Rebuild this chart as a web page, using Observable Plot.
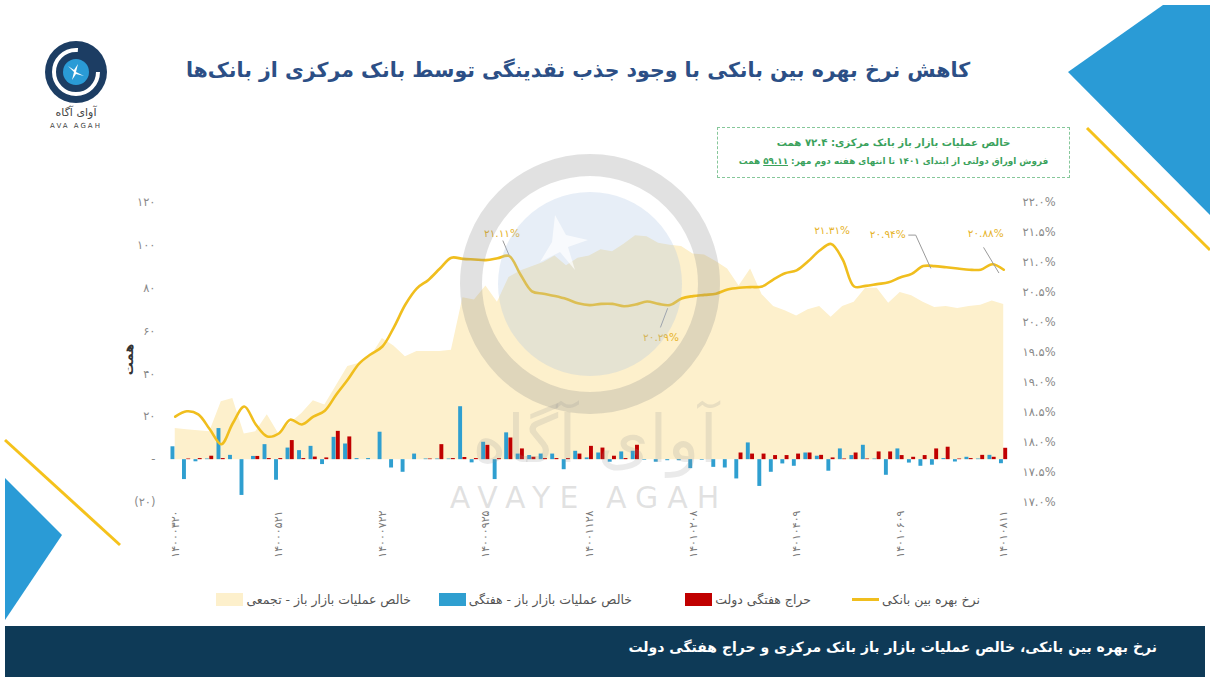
<!DOCTYPE html>
<html><head><meta charset="utf-8">
<script src="https://cdn.jsdelivr.net/npm/d3@7"></script>
<script src="https://cdn.jsdelivr.net/npm/@observablehq/plot@0.6"></script>
<style>
body{margin:0;width:1210px;height:677px;overflow:hidden;background:#fff;font-family:"DejaVu Sans",sans-serif;position:relative}
#chart{position:absolute;left:0;top:0}
.abs{position:absolute}
#title{left:0;width:1156px;top:58px;text-align:center;direction:rtl;font-weight:bold;font-size:20.5px;color:#2c4f86;white-space:nowrap}
#box{left:717px;top:127px;width:351px;height:49px;border:1px dashed #86c79a;direction:rtl;text-align:center;color:#3aa25c;white-space:nowrap}
#box .l1{font-size:10.2px;font-weight:bold;margin-top:9px}
#box .l2{font-size:8.8px;margin-top:8px;font-weight:bold}
#box u{font-weight:bold}
#footer{left:5px;top:626px;width:1200px;height:51px;background:#0e3a57;color:#fff;direction:rtl;font-weight:bold;font-size:14px;box-sizing:border-box;padding-right:48px;padding-top:13px}
.leg{display:flex;direction:rtl;align-items:center;font-size:12.5px;color:#555;top:592px;white-space:nowrap}
.leg .sw{width:27px;height:13px;margin-right:3px}
.leg .ln{width:27px;height:3px;margin-right:3px}
#ytitle{left:108px;top:352px;width:40px;text-align:center;transform:rotate(-90deg);font-weight:bold;font-size:13px;color:#333}
</style></head><body>
<div id="chart"></div>
<svg class="abs" style="left:0;top:0" width="1210" height="677" id="deco">
  <polygon points="1068,72 1163,5 1210,5 1210,215" fill="#2a9bd6"/>
  <line x1="1087" y1="128" x2="1210" y2="250" stroke="#f5c21b" stroke-width="3"/>
  <polygon points="5,478 62,535 5,620" fill="#2a9bd6"/>
  <line x1="5" y1="440" x2="120" y2="545" stroke="#f5c21b" stroke-width="3"/>
  <g transform="translate(76,72)">
    <circle r="31" fill="#1c3d63"/>
    <circle r="22" fill="none" stroke="#fff" stroke-width="4" stroke-dasharray="105 40"/>
    <circle r="13" fill="#2a9bd6"/>
    <path d="M-8,-6 L-2,-2 L2,-8 L0,0 L8,4 L0,2 L-4,8 L-2,0 Z" fill="#fff"/>
  </g>
  <text x="76" y="116" text-anchor="middle" font-size="11" fill="#444" direction="rtl">آوای آگاه</text>
  <text x="76" y="128" text-anchor="middle" font-size="7" fill="#444" letter-spacing="2">AVA AGAH</text>
</svg>
<div id="title" class="abs">کاهش نرخ بهره بین بانکی با وجود جذب نقدینگی توسط بانک مرکزی از بانک‌ها</div>
<div id="box" class="abs"><div class="l1">خالص عملیات بازار باز بانک مرکزی: ۷۲.۴ همت</div><div class="l2">فروش اوراق دولتی از ابتدای ۱۴۰۱ تا انتهای هفته دوم مهر: <u>۵۹.۱۱</u> همت</div></div>
<div id="ytitle" class="abs">همت</div>
<div class="abs leg" style="right:230px"><span>نرخ بهره بین بانکی</span><div class="ln" style="background:#f0be1e"></div></div>
<div class="abs leg" style="right:399px"><span>حراج هفتگی دولت</span><div class="sw" style="background:#c00000"></div></div>
<div class="abs leg" style="right:578px"><span>خالص عملیات بازار باز - هفتگی</span><div class="sw" style="background:#2f9fd0"></div></div>
<div class="abs leg" style="right:799px"><span>خالص عملیات بازار باز - تجمعی</span><div class="sw" style="background:#fdf0cc"></div></div>
<div id="footer" class="abs">نرخ بهره بین بانکی، خالص عملیات بازار باز بانک مرکزی و حراج هفتگی دولت</div>
<script>
// interbank rate (%), weekly
const rate = [18.43,18.52,18.47,18.22,17.97,18.32,18.6,18.3,18.1,18.15,
18.38,18.3,18.43,18.53,18.8,19.05,19.32,19.47,19.6,19.92,
20.3,20.57,20.71,20.9,21.08,21.06,21.05,21.04,21.07,21.11,
20.8,20.52,20.48,20.44,20.39,20.32,20.29,20.31,20.31,20.27,
20.3,20.35,20.31,20.29,20.4,20.44,20.46,20.48,20.55,20.58,
20.59,20.6,20.72,20.82,20.87,21.02,21.2,21.31,21.05,20.6,
20.61,20.64,20.67,20.75,20.81,20.94,20.94,20.92,20.9,20.88,
20.88,20.97,20.88];
// net open market operations - weekly (hemat)
const weekly = [6,-9.3,-1,0.3,14.5,2,-16.7,1.5,7,-9.6,
5.4,4.2,6.2,-2.3,10.4,7.3,0.5,0.5,12.8,-3.9,
-5.9,2.6,0.3,0.3,0.3,24.7,-1.5,8.1,-9.3,12.5,
2.6,1.9,2.6,2.6,-4.7,3.9,0.8,3.1,-1.2,3.6,
3.9,-0.3,-1.2,-0.5,-0.5,-4.2,-0.3,-3.6,-3.9,-9,
7.8,-12.5,-5.9,-2,-3.1,3.1,1.6,-5.4,5,1.9,
6.7,0.3,-7.3,5,-1.6,-3.1,-2.6,0.5,-1.1,1.1,
0.3,2,-1.9];
// government weekly auction (hemat)
const auction = [0,0.3,0.5,1.6,0.5,0,0,1.5,0.5,0.5,
8.9,0.5,1.2,0.8,13.2,10.6,0,0,0,0,
0,0,0.3,7,0.5,1,0.5,6.7,0.5,10.1,
5,1.1,0.5,0.5,0.5,2.6,6.2,5.4,1.6,0.5,
6.7,0,0,0,0,0,0,0,0,3.1,
2.6,2.6,1.9,1.9,2.6,3.1,2,0.8,0.3,3.1,
0.3,3.6,3.6,1.9,1.1,1.9,5,5.8,0.3,0.5,
2,1.1,5.3];
// net open market operations - cumulative (hemat)
const cumulative = [14.5,14,13.5,13,27,28.5,12,13,21,12,
17,21.5,27.5,25.5,34.5,43.5,45,48,56.5,53,
48,50.5,50.5,50.5,51,75.5,74.5,81,73.5,85,
88,90,92,95,90.5,94,95,98,97,100.5,
104.5,104,101,100,99.5,96,95.5,92.5,89,81,
89,77,71.5,69.5,67,70,71.5,66.5,71.5,73.5,
80,80,73,78,76.5,73.5,71,71.5,70.5,71.5,
72,74,72.4];
const tickIdx = [0,9,18,27,36,45,54,63,72];
const tickLabels = ["14000320","14000521","14000722","14000925","14001128","14010208","14010409","14010609","14010811"];
const leftTicks = [-20,0,20,40,60,80,100,120];
const rateTicks = [17,17.5,18,18.5,19,19.5,20,20.5,21,21.5,22];
// labelled points: index, rate value, label offset (px), leader path (px offsets from point)
const notes = [
  {i:29, r:21.11, dx:-7, dy:-22, lead:[[-6,-15],[0,-1]]},
  {i:43, r:20.29, dx:-9, dy:33, lead:[[-9.5,22],[-2.5,3.5]]},
  {i:57, r:21.31, dx:1, dy:-13, lead:null},
  {i:66, r:20.94, dx:-47, dy:-31, lead:[[-26,-31],[-19,-31],[-4,2]]},
  {i:72, r:20.88, dx:-18, dy:-36, lead:[[-20,-22],[-5,3]]}
];

const fa = s => String(s).replace(/\d/g, d => "۰۱۲۳۴۵۶۷۸۹"[d]);
const toV = r => -20 + (r - 17) * 28;           // map rate onto the left scale
const fromV = v => (v + 20) / 28 + 17;
const idx = d3.range(rate.length);
const pxX = 840 / 73, pxV = 300 / 140;

const leadPts = [];
notes.forEach((n, k) => { if (n.lead) n.lead.forEach(p => leadPts.push({k, x: n.i + p[0] / pxX, y: toV(n.r) - p[1] / pxV})); });

const chart = Plot.plot({
  width: 1210, height: 677,
  marginLeft: 169, marginRight: 201, marginTop: 202, marginBottom: 175,
  x: {type: "linear", domain: [-0.5, 72.5], axis: null, label: null},
  y: {domain: [-20, 120], axis: null, label: null},
  style: {fontFamily: "DejaVu Sans", background: "transparent"},
  marks: [
    Plot.areaY(idx, {x: i => i, y: i => cumulative[i], fill: "#fdf0cc"}),
    Plot.rect(idx, {x1: i => i - 0.37, x2: i => i - 0.03, y1: () => 0, y2: i => weekly[i], fill: "#2f9fd0"}),
    Plot.rect(idx, {x1: i => i + 0.0, x2: i => i + 0.34, y1: () => 0, y2: i => auction[i], fill: "#c00000"}),
    Plot.line(idx, {x: i => i, y: i => toV(rate[i]), stroke: "#f0be1e", strokeWidth: 2.6, curve: "catmull-rom"}),
    Plot.line(leadPts, {x: "x", y: "y", z: "k", stroke: "#9a9a9a", strokeWidth: 1}),
    Plot.text(notes, {x: d => d.i + d.dx / pxX, y: d => toV(d.r) - d.dy / pxV, text: d => fa(d.r.toFixed(2)) + "%", fill: "#e6b32a", fontSize: 10.5}),
    Plot.axisY({ticks: leftTicks, anchor: "left", label: null, tickSize: 0, tickPadding: 14, fontSize: 11.5, fill: "#8a8a8a",
      tickFormat: v => v === 0 ? "-" : v < 0 ? "(" + fa(-v) + ")" : fa(v)}),
    Plot.axisY({ticks: rateTicks.map(toV), anchor: "right", label: null, tickSize: 0, tickPadding: 13, fontSize: 11.5, fill: "#8a8a8a",
      tickFormat: v => fa(fromV(v).toFixed(1)) + "%"}),
    Plot.axisX({ticks: tickIdx, anchor: "bottom", label: null, tickSize: 0, tickPadding: 8, tickRotate: -90, fontSize: 11, fill: "#7a7a7a",
      tickFormat: i => fa(tickLabels[tickIdx.indexOf(i)])})
  ]
});
document.getElementById("chart").appendChild(chart);

// faint watermark over the plot
const wm = d3.select("body").append("svg").attr("class", "abs").style("left", "0px").style("top", "0px")
  .attr("width", 1210).attr("height", 677).style("pointer-events", "none");
wm.append("circle").attr("cx", 590).attr("cy", 284).attr("r", 119).attr("fill", "none").attr("stroke", "rgba(140,140,140,0.26)").attr("stroke-width", 22);
wm.append("circle").attr("cx", 590).attr("cy", 284).attr("r", 92).attr("fill", "rgba(170,195,225,0.28)");
wm.append("path").attr("d", "M555,215 L566,235 L588,240 L568,247 L575,270 L560,252 L540,262 L552,242 Z").attr("fill", "rgba(255,255,255,0.7)");
wm.append("text").attr("x", 595).attr("y", 462).attr("text-anchor", "middle").attr("font-size", 66).attr("fill", "rgba(150,150,150,0.2)").attr("direction", "rtl").text("آوای آگاه");
wm.append("text").attr("x", 589).attr("y", 508).attr("text-anchor", "middle").attr("font-size", 30).attr("letter-spacing", 9).attr("fill", "rgba(150,150,150,0.28)").text("AVAYE AGAH");
</script>
</body></html>
